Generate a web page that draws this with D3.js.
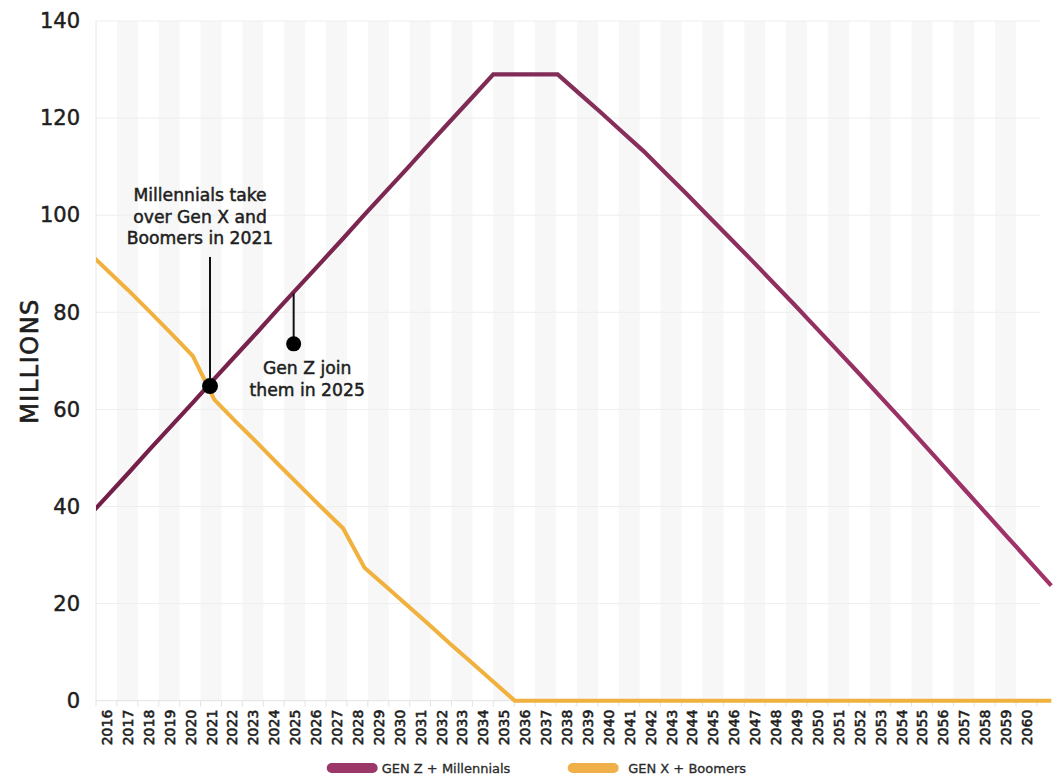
<!DOCTYPE html>
<html>
<head>
<meta charset="utf-8">
<script src="https://cdn.jsdelivr.net/npm/d3@7"></script>
<style>
  body { margin: 0; background: #fff; }
  svg { display: block; }
  text { font-family: "DejaVu Sans", sans-serif; }
</style>
</head>
<body>
<svg id="chart" width="1057" height="777"></svg>
<script>
// Category labels along the bottom axis
const yearLabels = ["2016","2017","2018","2019","2020","2021","2022","2023","2024","2025",
  "2026","2027","2028","2029","2030","2031","2032","2033","2034","2035",
  "2036","2037","2038","2039","2040","2041","2042","2043","2044","2045",
  "2046","2047","2048","2049","2050","2051","2052","2053","2054","2055",
  "2056","2057","2058","2059","2060"];

// Years of the series values (series begin one year before the first label)
const seriesYears = [2015,2016,2017,2018,2019,2020,2021,2022,2023,2024,2025,
  2026,2027,2028,2029,2030,2031,2032,2033,2034,2035,
  2036,2037,2038,2039,2040,2041,2042,2043,2044,2045,
  2046,2047,2048,2049,2050,2051,2052,2053,2054,2055,
  2056,2057,2058,2059,2060];

// Workforce, millions
const genZMillennials = [37.3,42.1,46.9,51.8,56.6,61.4,66.3,71.1,75.9,80.8,85.6,
  90.4,95.2,100.1,104.9,109.7,114.6,119.4,124.2,129.0,129.0,
  129.0,129.0,125.1,121.2,117.2,113.2,108.8,104.4,99.9,95.4,
  90.9,86.3,81.7,77.0,72.3,67.6,62.8,58.0,53.1,48.2,
  43.3,38.4,33.5,28.6,23.7];

const genXBoomers = [92.9,88.7,84.5,80.1,75.6,71.0,62.0,57.5,53.1,48.6,44.2,
  39.8,35.5,27.4,23.5,19.6,15.7,11.7,7.8,3.9,0,
  0,0,0,0,0,0,0,0,0,0,
  0,0,0,0,0,0,0,0,0,0,
  0,0,0,0,0];

const yTicks = [0,20,40,60,80,100,120,140];
const seriesNames = ["GEN Z + Millennials", "GEN X + Boomers"];

// Callouts: label lines, year, value where the dot sits, value where the stem starts
const calloutText = [
  ["Millennials take", "over Gen X and", "Boomers in 2021"],
  ["Gen Z join", "them in 2025"]
];
const calloutYears = ["2021", "2025"];
const calloutDotValues = [64.8, 73.5];
const calloutStemValues = [91.4, 83.9];

// ---- layout ----
const W = 1057, H = 777;
const plot = { left: 96, right: 1037, top: 21, bottom: 700.7 };
const ink = "#1e1e1e";
const svg = d3.select("#chart");
svg.append("rect").attr("width", W).attr("height", H).attr("fill", "#fff");

// medium-weight look: fill plus a hairline stroke of the same colour
function medium(sel, w) {
  return sel.attr("stroke", ink).attr("stroke-width", w).attr("paint-order", "stroke");
}

const xBand = d3.scaleBand().domain(yearLabels).range([plot.left, plot.right]).padding(0);
const xLine = d3.scaleLinear().domain([2016, 2060]).range([107, 1051.3]);
const y = d3.scaleLinear().domain([0, 140]).range([plot.bottom, plot.top]);

// alternating column stripes
svg.append("g").selectAll("rect")
  .data(yearLabels.filter((d, i) => i % 2 === 1))
  .join("rect")
  .attr("x", d => xBand(d))
  .attr("y", plot.top)
  .attr("width", xBand.bandwidth())
  .attr("height", plot.bottom - plot.top)
  .attr("fill", "#f7f7f7");

// horizontal grid
svg.append("g").selectAll("line")
  .data(yTicks.filter(v => v > 0))
  .join("line")
  .attr("x1", plot.left).attr("x2", plot.right + 3)
  .attr("y1", d => y(d)).attr("y2", d => y(d))
  .attr("stroke", "#eeeeee").attr("stroke-width", 1);

// left axis rule
svg.append("line")
  .attr("x1", plot.left).attr("x2", plot.left)
  .attr("y1", plot.top).attr("y2", plot.bottom)
  .attr("stroke", "#e6e6e6");

// y axis labels
const yAxis = d3.axisLeft(y).tickValues(yTicks).tickSize(0).tickPadding(16);
const yG = svg.append("g").attr("transform", `translate(${plot.left},0)`).call(yAxis);
yG.select(".domain").remove();
medium(yG.selectAll("text")
  .attr("x", 80 - plot.left)
  .attr("font-family", '"DejaVu Sans", sans-serif')
  .attr("font-size", 21)
  .attr("fill", ink), 0.5);

medium(svg.append("text")
  .attr("transform", "translate(38,361) rotate(-90)")
  .attr("text-anchor", "middle")
  .attr("font-size", 24)
  .attr("letter-spacing", 1.5)
  .attr("fill", ink)
  .text("MILLIONS"), 0.6);

// x axis with ticks at band edges
const xG = svg.append("g").attr("transform", `translate(0,${plot.bottom})`);
xG.append("line")
  .attr("x1", plot.left).attr("x2", plot.right)
  .attr("stroke", "#e3e3e3");
xG.selectAll("line.tick")
  .data(yearLabels.concat(["end"]))
  .join("line")
  .attr("class", "tick")
  .attr("x1", (d, i) => plot.left + i * xBand.bandwidth())
  .attr("x2", (d, i) => plot.left + i * xBand.bandwidth())
  .attr("y1", 0).attr("y2", 6)
  .attr("stroke", "#e3e3e3");
medium(xG.selectAll("text")
  .data(yearLabels)
  .join("text")
  .attr("transform", d => `translate(${xBand(d) + xBand.bandwidth() / 2 + 5.5},9) rotate(-90)`)
  .attr("text-anchor", "end")
  .attr("font-size", 14)
  .attr("fill", ink)
  .text(d => d), 0.6);

// series lines
const defs = svg.append("defs");
defs.append("clipPath").attr("id", "plotClip")
  .append("rect").attr("x", plot.left).attr("y", 0).attr("width", W - plot.left).attr("height", H);
const grad = defs.append("linearGradient").attr("id", "purpleGrad")
  .attr("gradientUnits", "userSpaceOnUse")
  .attr("x1", plot.left).attr("x2", 1052).attr("y1", 0).attr("y2", 0);
grad.append("stop").attr("offset", "0%").attr("stop-color", "#721e47");
grad.append("stop").attr("offset", "50%").attr("stop-color", "#832e58");
grad.append("stop").attr("offset", "100%").attr("stop-color", "#a2326a");

const line = d3.line().x(d => xLine(d[0])).y(d => y(d[1]));
const lines = svg.append("g").attr("clip-path", "url(#plotClip)");
lines.append("path")
  .datum(seriesYears.map((yr, i) => [yr, genXBoomers[i]]))
  .attr("d", line)
  .attr("fill", "none")
  .attr("stroke", "#f0b13f")
  .attr("stroke-width", 4);
lines.append("path")
  .datum(seriesYears.map((yr, i) => [yr, genZMillennials[i]]))
  .attr("d", line)
  .attr("fill", "none")
  .attr("stroke", "url(#purpleGrad)")
  .attr("stroke-width", 4.2);

// callouts
const ann = svg.append("g");
calloutYears.forEach((yr, k) => {
  const cx = xBand(yr) + xBand.bandwidth() / 2 - 1;
  ann.append("line")
    .attr("x1", cx).attr("x2", cx)
    .attr("y1", y(calloutStemValues[k])).attr("y2", y(calloutDotValues[k]))
    .attr("stroke", "#111").attr("stroke-width", 2);
  ann.append("circle")
    .attr("cx", cx).attr("cy", y(calloutDotValues[k]))
    .attr("r", k === 0 ? 8 : 7.5)
    .attr("fill", "#000");
});
const t0 = medium(ann.append("text")
  .attr("text-anchor", "middle").attr("font-size", 17.2).attr("fill", ink), 0.5);
calloutText[0].forEach((s, i) => {
  t0.append("tspan").attr("x", xBand("2021") - 0.5).attr("y", 201 + i * 21.5).text(s);
});
const t1 = medium(ann.append("text")
  .attr("text-anchor", "middle").attr("font-size", 17.2).attr("fill", ink), 0.5);
calloutText[1].forEach((s, i) => {
  t1.append("tspan").attr("x", xBand("2025") + 23).attr("y", 374 + i * 21.5).text(s);
});

// legend
const legendColors = ["#9c376a", "#f0b048"];
const legendX = [326.7, 567.7];
const lg = svg.append("g");
seriesNames.forEach((name, i) => {
  lg.append("rect")
    .attr("x", legendX[i]).attr("y", 763)
    .attr("width", 51).attr("height", 10).attr("rx", 5)
    .attr("fill", legendColors[i]);
  medium(lg.append("text")
    .attr("x", legendX[i] + (i === 0 ? 55 : 60.5)).attr("y", 773)
    .attr("font-size", 13).attr("fill", "#2a2a2a")
    .text(name), 0.3);
});
</script>
</body>
</html>
